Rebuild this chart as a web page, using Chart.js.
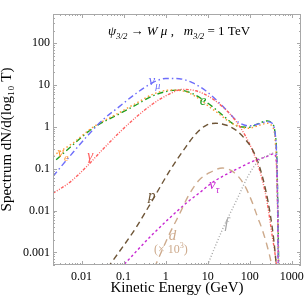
<!DOCTYPE html>
<html lang="en">
<head>
<meta charset="UTF-8" />
<title>spectrum</title>
<script src="https://cdn.jsdelivr.net/npm/chart.js@4.4.0/dist/chart.umd.min.js"></script>
<style>
  html, body { margin: 0; padding: 0; background: #fff; }
  #wrap { width: 306px; height: 300px; }
</style>
</head>
<body>
<div id="wrap"><canvas id="chart"></canvas></div>
<script>
// axis ranges and labelled ticks
const xMin = 0.0021, xMax = 1650;
const yMin = 0.0005, yMax = 500;
const xTickLabels = [0.01, 0.1, 1, 10, 100, 1000];
const yTickLabels = [0.001, 0.01, 0.1, 1, 10, 100];

// spectra, [kinetic energy GeV, dN/dlog10T]
const numu = [[0.0021,0.066],[0.0052,0.196],[0.0129,0.567],[0.032,1.47],[0.079,3.05],[0.197,6.3],[0.49,11.4],[1.01,14.4],[2.1,14.2],[4.3,11.4],[9.0,7.3],[18.6,3.8],[32,2.19],[55,1.27],[95,1.06],[165,1.18],[260,1.34],[341,1.22],[395,0.77],[425,0.34],[457,0.026],[473,0.0003]];
const elec = [[0.0025,0.164],[0.0062,0.37],[0.0185,0.93],[0.079,2.04],[0.197,3.34],[0.49,5.5],[1.22,7.3],[2.1,7.6],[4.3,6.3],[7.5,4.56],[12.9,3.05],[22.3,1.93],[38.5,1.22],[55,1.02],[95,0.98],[165,1.22],[260,1.39],[341,1.18],[395,0.77],[441,0.164],[465,0.0106],[491,0.0003]];
const nue = [[0.0021,0.204],[0.0062,0.41],[0.0185,0.98],[0.079,2.19],[0.197,3.66],[0.49,6.0],[1.22,7.6],[2.5,7.3],[5.2,5.3],[10.8,3.05],[18.6,2.04],[32,1.34],[55,1.02],[95,0.93],[165,1.09],[260,1.22],[341,1.02],[395,0.59],[425,0.164],[457,0.0106],[482,0.0003]];
const gamma = [[0.0021,0.026],[0.0052,0.047],[0.0129,0.11],[0.032,0.29],[0.079,0.73],[0.197,1.70],[0.49,3.53],[1.22,6.1],[2.5,7.9],[5.2,7.3],[10.8,5.3],[22.3,3.05],[46,1.41],[80,0.59],[115,0.28],[151,0.136],[198,0.055],[260,0.0152],[341,0.0025],[395,0.00098],[441,0.0004]];
const proton = [[0.042,0.00043],[0.197,0.0039],[0.49,0.018],[1.22,0.086],[3.0,0.33],[5.2,0.68],[9.0,1.08],[15.5,1.22],[26.7,1.11],[46,0.85],[80,0.49],[115,0.29],[165,0.124],[237,0.032],[312,0.0073],[374,0.0019],[433,0.00043]];
const nutau = [[0.087,0.00043],[0.49,0.0027],[3.0,0.0147],[6.2,0.026],[12.9,0.047],[26.7,0.072],[55,0.104],[115,0.149],[237,0.19],[374,0.227],[425,0.164],[457,0.018],[482,0.0004]];
const deut = [[0.54,0.00043],[1.22,0.0027],[2.1,0.008],[3.6,0.024],[6.2,0.053],[11.8,0.083],[22.3,0.104],[42,0.082],[73,0.042],[115,0.0155],[151,0.0072],[198,0.0035],[260,0.0014],[330,0.0005],[355,0.0003]];
const fspec = [[9.3,0.00043],[22.3,0.0035],[46,0.0158],[95,0.072],[165,0.158],[260,0.205],[355,0.236],[410,0.227],[441,0.095],[465,0.0061],[491,0.0003]];

const serif = '"Liberation Serif", "DejaVu Serif", serif';

const series = [
  { data: fspec,  color: 'rgb(165,165,165)', dash: [1, 2] },
  { data: deut,   color: 'rgb(205,170,140)', dash: [7, 5] },
  { data: nutau,  color: 'rgb(200,40,210)',  dash: [2.5, 2.5] },
  { data: proton, color: 'rgb(110,85,55)',   dash: [6, 4] },
  { data: gamma,  color: 'rgb(255,95,95)',   dash: [3, 1.5, 1, 1.5, 1, 1.5] },
  { data: numu,   color: 'rgb(110,110,250)', dash: [6, 3, 1.5, 3] },
  { data: nue,    color: 'rgb(255,150,50)',  dash: [1.5, 2.5] },
  { data: elec,   color: 'rgb(30,160,30)',   dash: [6, 3, 1.5, 3] },
];

// curve labels, placed in data coordinates
const notes = [
  { parts: [{ t: 'ν' }, { t: 'μ', sub: 1 }], x: 0.54, y: 12.7, color: 'rgb(110,110,250)' },
  { parts: [{ t: 'e' }], x: 7.8, y: 4.2, color: 'rgb(30,160,30)' },
  { parts: [{ t: 'ν' }, { t: 'e', sub: 1 }], x: 0.0036, y: 0.245, color: 'rgb(255,150,50)' },
  { parts: [{ t: 'γ' }], x: 0.016, y: 0.204, color: 'rgb(255,95,95)' },
  { parts: [{ t: 'p' }], x: 0.47, y: 0.0228, color: 'rgb(110,85,55)' },
  { parts: [{ t: 'ν' }, { t: 'τ', sub: 1 }], x: 14.2, y: 0.0416, color: 'rgb(200,40,210)' },
  { parts: [{ t: 'd' }], x: 1.46, y: 0.00254, color: 'rgb(205,170,140)' },
  { parts: [{ t: '(× 10', it: 0 }, { t: '3', it: 0, sup: 1 }, { t: ')', it: 0 }], x: 1.33, y: 0.00118, color: 'rgb(205,170,140)', size: 12 },
  { parts: [{ t: 'f' }], x: 28.2, y: 0.0049, color: 'rgb(165,165,165)' },
];

const titleParts = [
  { t: 'ψ' }, { t: '3/2', sub: 1 }, { t: ' → ', it: 0 }, { t: 'W' }, { t: ' μ' },
  { t: ' ,   ', it: 0 }, { t: 'm' }, { t: '3/2', sub: 1 }, { t: ' = 1 TeV', it: 0 },
];

function drawRich(ctx, parts, cx, baseY, size, color) {
  const fontOf = p => {
    const s = Math.round(((p.sub || p.sup) ? size * 0.68 : size) * 10) / 10;
    return (p.it === 0 ? '' : 'italic ') + s + 'px ' + serif;
  };
  let w = 0;
  parts.forEach(p => { ctx.font = fontOf(p); w += ctx.measureText(p.t).width; });
  let x = cx - w / 2;
  ctx.fillStyle = color;
  ctx.textAlign = 'left';
  ctx.textBaseline = 'alphabetic';
  parts.forEach(p => {
    ctx.font = fontOf(p);
    const dy = p.sub ? size * 0.28 : p.sup ? -size * 0.4 : 0;
    ctx.fillText(p.t, x, baseY + dy);
    x += ctx.measureText(p.t).width;
  });
}

const frame = {
  id: 'frame',
  afterDatasetsDraw(chart) {
    const { ctx, chartArea: a, scales: { x, y } } = chart;
    ctx.save();
    ctx.strokeStyle = '#a8a8a8';
    ctx.lineWidth = 1;
    ctx.strokeRect(a.left + 0.5, a.top + 0.5, a.right - a.left - 1, a.bottom - a.top - 1);
    ctx.beginPath();
    for (let e = -4; e <= 3; e++) {
      for (let m = 1; m < 10; m++) {
        const v = m * Math.pow(10, e);
        const len = m === 1 ? 4 : 2;
        if (v >= xMin && v <= xMax) {
          const px = Math.round(x.getPixelForValue(v)) + 0.5;
          ctx.moveTo(px, a.bottom); ctx.lineTo(px, a.bottom - len);
          ctx.moveTo(px, a.top); ctx.lineTo(px, a.top + len);
        }
        if (v >= yMin && v <= yMax) {
          const py = Math.round(y.getPixelForValue(v)) + 0.5;
          ctx.moveTo(a.left, py); ctx.lineTo(a.left + len, py);
          ctx.moveTo(a.right, py); ctx.lineTo(a.right - len, py);
        }
      }
    }
    ctx.stroke();
    ctx.restore();
  },
  afterDraw(chart) {
    const { ctx, chartArea: a, scales: { x, y } } = chart;
    ctx.save();
    drawRich(ctx, titleParts, (a.left + a.right) / 2 + 2, a.top + 21, 13, '#000');
    notes.forEach(n => {
      const size = n.size || 15;
      drawRich(ctx, n.parts, x.getPixelForValue(n.x), y.getPixelForValue(n.y) + size * 0.3, size, n.color);
    });
    ctx.restore();
  },
};

function tickLabel(list) {
  return function (v) {
    const hit = list.find(t => Math.abs(Math.log10(v) - Math.log10(t)) < 1e-6);
    if (hit === undefined) return '';
    const e = Math.round(Math.log10(hit));
    return e >= 0 ? String(hit) : hit.toFixed(-e);
  };
}

new Chart(document.getElementById('chart'), {
  type: 'line',
  data: {
    datasets: series.map(s => ({
      data: s.data.map(([x, y]) => ({ x, y })),
      borderColor: s.color,
      borderDash: s.dash,
      borderWidth: 1.4,
      pointRadius: 0,
      fill: false,
      cubicInterpolationMode: 'monotone',
    })),
  },
  options: {
    responsive: true,
    maintainAspectRatio: false,
    devicePixelRatio: 1,
    animation: false,
    layout: { padding: { top: 14, right: 4, left: 0, bottom: 0 } },
    plugins: { legend: { display: false }, tooltip: { enabled: false } },
    scales: {
      x: {
        type: 'logarithmic', min: xMin, max: xMax,
        grid: { display: false, drawTicks: false },
        border: { display: false },
        ticks: { autoSkip: false, maxRotation: 0, color: '#000', padding: 5, font: { family: serif, size: 12 }, callback: tickLabel(xTickLabels) },
        title: { display: true, text: 'Kinetic Energy (GeV)', color: '#000', font: { family: serif, size: 15, lineHeight: 1 }, padding: { top: 0, bottom: 4 } },
        afterFit: s => { s.height = 35; },
      },
      y: {
        type: 'logarithmic', min: yMin, max: yMax,
        grid: { display: false, drawTicks: false },
        border: { display: false },
        ticks: { autoSkip: false, color: '#000', padding: 3, font: { family: serif, size: 12 }, callback: tickLabel(yTickLabels) },
        title: { display: true, text: 'Spectrum dN/d(log₁₀ T)', color: '#000', font: { family: serif, size: 15, lineHeight: 1 }, padding: 0 },
        afterFit: s => { s.width = 53; },
      },
    },
  },
  plugins: [frame],
});
</script>
</body>
</html>
